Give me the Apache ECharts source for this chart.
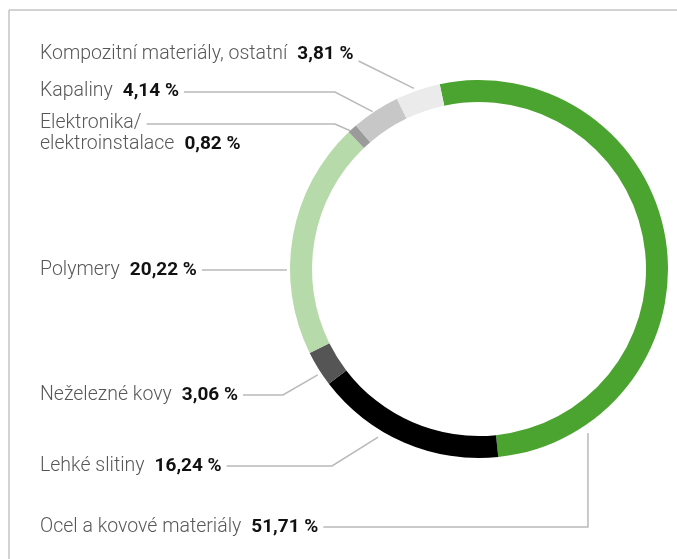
<!DOCTYPE html>
<html><head><meta charset="utf-8">
<script src="https://cdn.jsdelivr.net/npm/echarts@6/dist/echarts.min.js"></script>
<style>html,body{margin:0;padding:0;background:#fff}#c{width:677px;height:559px}</style>
</head><body><div id="c"></div>
<script>
// ---- data ----
const categories = [
  'Ocel a kovové materiály',
  'Lehké slitiny',
  'Neželezné kovy',
  'Polymery',
  'Elektronika/\nelektroinstalace',
  'Kapaliny',
  'Kompozitní materiály, ostatní'
];
const values = [51.71, 16.24, 3.06, 20.22, 0.82, 4.14, 3.81];

// ---- styles / layout ----
const colors = ['#4ba42f', '#000000', '#555555', '#b6daa9', '#9a9b9a', '#c6c7c6', '#ebebeb'];
const CX = 479, CY = 269, R_IN = 167, R_OUT = 189;
const START = -12;                 // degrees clockwise from 12 o'clock
const LABEL_X = 40, LINE_H = 21, GAP = 10;
const labelTextY = [527, 466, 395, 270, 123, 91, 54];   // centre of first text line
const lineY      = [527, 466, 395, 270, 124, 92, 61];
const anchorFrac = [0.851, 0.63, 0.37, 0.366, 0.2, 0.44, 0.43];
const anchorR    = [197, 196, 193, 192, 189, 190, 192];
const elbowMode  = ['vertical', 332, 283, 'anchor', 335, 335, 'end'];
const NAME_SIZE = 19.5, VAL_SIZE = 19;
const nameFont = '300 ' + NAME_SIZE + 'px Roboto';
const valFont = 'bold ' + VAL_SIZE + 'px Roboto';

const ctx = document.createElement('canvas').getContext('2d');
function tw(t, f) { ctx.font = f; return ctx.measureText(t).width; }
const fmt = v => v.toFixed(2).replace('.', ',') + ' %';
const total = values.reduce((a, b) => a + b, 0);
const cumBefore = values.map((v, i) => values.slice(0, i).reduce((a, b) => a + b, 0));

function anchor(i) {
  const th = (START + (cumBefore[i] + anchorFrac[i] * values[i]) / total * 360) * Math.PI / 180;
  return [CX + anchorR[i] * Math.sin(th), CY - anchorR[i] * Math.cos(th)];
}
function firstLineWidth(i) {
  const parts = categories[i].split('\n');
  if (parts.length > 1) return tw(parts[0], nameFont);
  return tw(parts[0], nameFont) + GAP + tw(fmt(values[i]), valFont);
}

const chart = echarts.init(document.getElementById('c'), null, { renderer: 'canvas' });
chart.setOption({
  animation: false,
  backgroundColor: '#ffffff',
  graphic: [
    { type: 'line', shape: { x1: 9, y1: 10, x2: 677, y2: 10 }, style: { stroke: '#c4c4c4', lineWidth: 1.5 } },
    { type: 'line', shape: { x1: 9, y1: 10, x2: 9, y2: 559 }, style: { stroke: '#c4c4c4', lineWidth: 1.5 } }
  ],
  series: [{
    type: 'pie',
    center: [CX, CY],
    radius: [R_IN, R_OUT],
    startAngle: 90 - START,
    clockwise: true,
    avoidLabelOverlap: false,
    emphasis: { disabled: true },
    silent: true,
    data: categories.map((c, i) => ({ name: c, value: values[i], itemStyle: { color: colors[i] } })),
    label: {
      show: true,
      position: 'outside',
      formatter: p => {
        const parts = p.name.split('\n').map(s => '{n|' + s + '}');
        return parts.join('\n') + '{v|' + fmt(p.value) + '}';
      },
      rich: {
        n: { fontFamily: 'Roboto', fontWeight: 300, fontSize: NAME_SIZE, color: '#585858', lineHeight: LINE_H },
        v: { fontFamily: 'Roboto', fontWeight: 'bold', fontSize: VAL_SIZE, color: '#111111', lineHeight: LINE_H, padding: [0, 0, 0, GAP] }
      }
    },
    labelLine: { show: true, lineStyle: { color: '#b9b9b9', width: 1.5 } },
    labelLayout: params => {
      const i = params.dataIndex;
      const a = anchor(i);
      const endX = LABEL_X + firstLineWidth(i) + 5;
      let elbow;
      const m = elbowMode[i];
      if (m === 'vertical' || m === 'anchor') elbow = [a[0], lineY[i]];
      else if (m === 'end') elbow = [endX, lineY[i]];
      else elbow = [m, lineY[i]];
      const end = [endX, lineY[i]];
      const start = (m === 'anchor') ? [a[0], lineY[i]] : a;
      return {
        x: LABEL_X,
        y: labelTextY[i] - LINE_H / 2,
        align: 'left',
        verticalAlign: 'top',
        labelLinePoints: [start, elbow, end]
      };
    }
  }]
});
</script>
</body></html>
